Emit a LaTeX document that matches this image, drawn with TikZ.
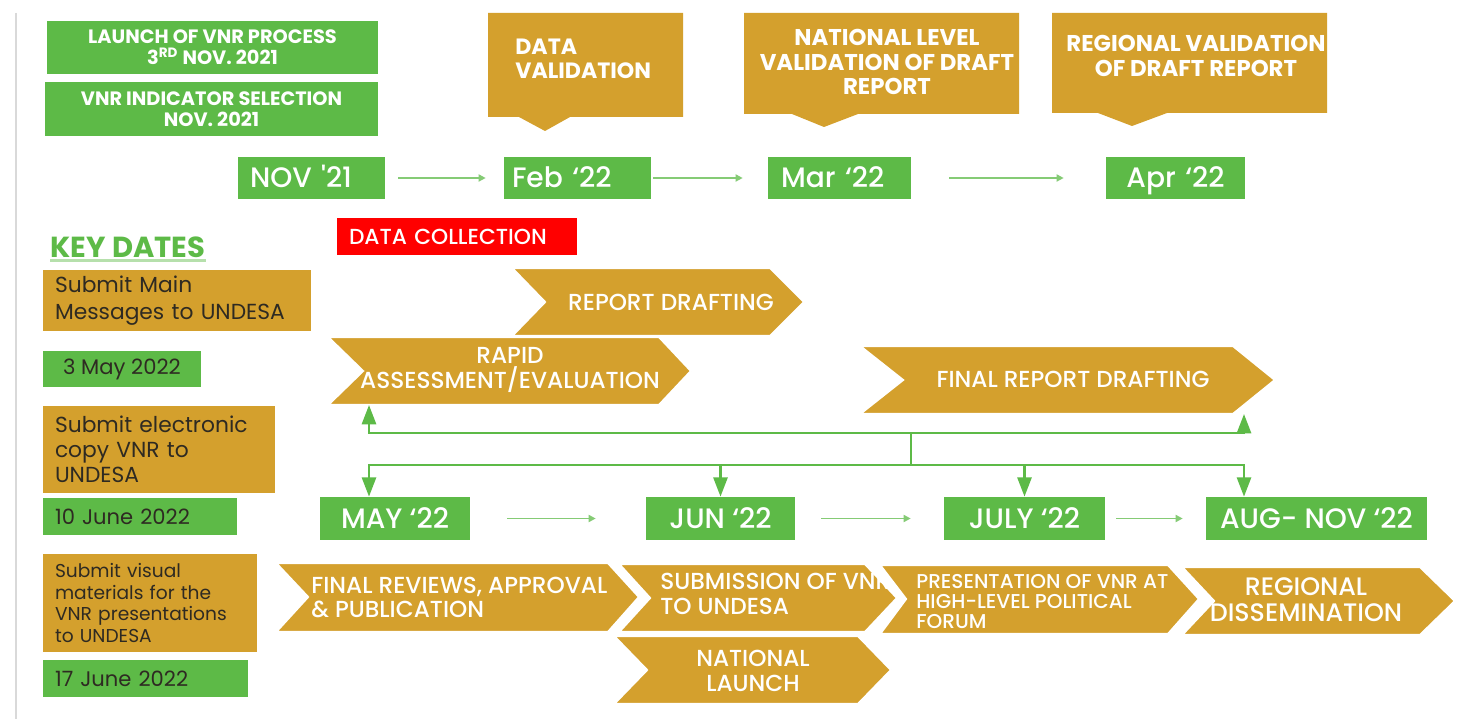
\documentclass[tikz,border=0pt]{standalone}
\usepackage{fontspec}
\setmainfont{Poppins}
\newfontfamily\medfont{Poppins Medium}
\usetikzlibrary{arrows.meta}
\definecolor{vnrgold}{HTML}{D4A02D}
\definecolor{vnrgreen}{HTML}{5DBA47}
\definecolor{vnrred}{HTML}{FF0000}
\definecolor{vnrink}{HTML}{2E2A22}
\begin{document}
\begin{tikzpicture}
	\begin{scope}[x={0.02cm},y={-0.02cm},
		greenhead/.style={fill=vnrgreen, text=white, inner sep=0pt, align=center, font=\bfseries\fontsize{11}{12}\selectfont},
		monthbox/.style={fill=vnrgreen, text=white, inner sep=0pt, text height=13pt, text depth=1.8pt, font=\medfont\fontsize{16}{18}\selectfont},
		callout/.style={fill=vnrgold},
		callouttext/.style={text=white, inner sep=0pt, font=\bfseries\fontsize{13}{14.2}\selectfont},
		chev/.style={fill=vnrgold, draw=white, line width=1.2pt},
		chevtext/.style={text=white, inner sep=0pt, font=\medfont\fontsize{13.2}{14.2}\selectfont},
		keybox/.style={fill=vnrgold, text=vnrink, inner xsep=0.24cm, inner ysep=0pt, align=left, font=\fontsize{12.4}{15}\selectfont},
		datebox/.style={fill=vnrgreen, text=vnrink, inner xsep=0.24cm, inner ysep=0pt, font=\fontsize{12}{15}\selectfont},
		monthlink/.style={draw=vnrgreen!75, line width=0.9pt, -{Triangle[length=4pt,width=4pt]}},
		bus/.style={draw=vnrgreen, line width=1.5pt},
		busarrow/.style={bus, -{Triangle[length=11pt,width=8pt]}}]

		\fill[white] (0,0) rectangle (1461,719); % page
		\useasboundingbox (0,0) rectangle (1461,719);
		\draw[gray!30, line width=1.2pt] (16,13)--(16,719); % left rule

		% launch boxes
		\node[greenhead, minimum width=6.62cm, minimum height=1.06cm] (launch) at (212.5,47.5) {LAUNCH OF VNR PROCESS\\3\textsuperscript{RD} NOV. 2021};
		\node[greenhead, minimum width=6.66cm, minimum height=1.08cm] (indic) at (211.5,109) {VNR INDICATOR SELECTION\\NOV. 2021};

		% callouts
		\fill[callout] (488,13)--(683,13)--(683,117)--(570,117)--(545,131)--(519,117)--(488,117)--cycle; % data validation
		\fill[callout] (744,13)--(1019,13)--(1019,114)--(858,114)--(824,127)--(792,114)--(744,114)--cycle; % national validation
		\fill[callout] (1052,13)--(1327,13)--(1327,113)--(1167,113)--(1132,126)--(1098,113)--(1052,113)--cycle; % regional validation
		\node[callouttext, align=left, anchor=west, font=\bfseries\fontsize{12.6}{14}\selectfont] (dvaltext) at (515,59) {DATA\\VALIDATION};
		\node[callouttext, align=center] (nvaltext) at (887,62) {NATIONAL LEVEL\\VALIDATION OF DRAFT\\REPORT};
		\node[callouttext, align=center] (rvaltext) at (1196,55.5) {REGIONAL VALIDATION\\OF DRAFT REPORT};

		% months, first row
		\node[monthbox, minimum height=0.84cm, text width=2.46cm, inner xsep=0.24cm, align=left] (nov) at (311.5,178) {NOV \textquotesingle 21};
		\node[monthbox, minimum height=0.84cm, text width=2.62cm, inner xsep=0.16cm, align=left] (feb) at (577.5,178) {Feb ‘22};
		\node[monthbox, minimum height=0.84cm, text width=2.34cm, inner xsep=0.26cm, align=left] (mar) at (839.5,178) {Mar ‘22};
		\node[monthbox, minimum height=0.84cm, text width=2.30cm, inner xsep=0.24cm, align=center] (apr) at (1175.5,178) {Apr ‘22};
		\draw[monthlink, shorten <=0.26cm, shorten >=0.36cm] (nov)--(feb);
		\draw[monthlink, shorten <=0.04cm, shorten >=0.50cm] (feb)--(mar);
		\draw[monthlink, shorten <=0.76cm, shorten >=0.84cm] (mar)--(apr);

		\node[fill=vnrred, text=white, inner xsep=0.24cm, inner ysep=0pt, minimum height=0.74cm, text width=4.32cm, align=left, font=\medfont\fontsize{12.4}{14}\selectfont] (collect) at (457,236.5) {DATA COLLECTION}; % red bar

		% key dates column
		\node[text=vnrgreen, inner sep=0pt, font=\bfseries\fontsize{16.5}{18}\selectfont] (keyd) at (128,247) {KEY DATES};
		\draw[vnrgreen!45, line width=1.3pt] ([yshift=-1.5pt]keyd.south west)--([yshift=-1.5pt]keyd.south east);
		\node[keybox, minimum height=1.22cm, text width=4.88cm] (mainmsg) at (177,300.5) {Submit Main\\Messages to UNDESA};
		\node[datebox, minimum width=3.16cm, minimum height=0.72cm] (may3) at (122,369) {3 May 2022};
		\node[keybox, minimum height=1.74cm, text width=4.16cm, font=\fontsize{12.4}{14.2}\selectfont] (ecopy) at (159,449.5) {Submit electronic\\copy VNR to\\UNDESA};
		\node[datebox, minimum height=0.74cm, text width=3.40cm, align=left] (jun10) at (140,516.5) {10 June 2022};
		\node[keybox, minimum height=1.96cm, text width=3.80cm, font=\fontsize{10.6}{12.5}\selectfont] (visual) at (150,603) {Submit visual\\materials for the\\VNR presentations\\to UNDESA};
		\node[datebox, minimum height=0.74cm, text width=3.62cm, align=left] (jun17) at (145.5,678.5) {17 June 2022};

		% drafting chevrons
		\draw[chev] (512,268)--(770,268)--(804,302)--(770,336)--(512,336)--(545,302)--cycle; % report drafting
		\draw[chev] (328,337)--(659,337)--(691,371)--(659,405)--(328,405)--(363,371)--cycle; % rapid assessment
		\draw[chev] (860,346)--(1233,346)--(1275,380)--(1233,414)--(860,414)--(903,380)--cycle; % final report drafting
		\node[chevtext] (rdraft) at (671,302) {REPORT DRAFTING};
		\node[chevtext, align=center] (rapid) at (510,369.5) {RAPID\\ASSESSMENT/EVALUATION};
		\node[chevtext] (frdraft) at (1073,379) {FINAL REPORT DRAFTING};

		% bus between drafting and months
		\coordinate (rapidb) at (369,405);
		\coordinate (frdb) at (1244,414);
		\coordinate (busU) at (911,433);
		\coordinate (busD) at (911,465);
		\draw[busarrow] (busU)-|(rapidb);
		\draw[busarrow] (busU)-|(frdb);
		\draw[bus] (busU)--(busD);

		% months, second row
		\node[monthbox, minimum height=0.86cm, minimum width=3cm] (may) at (395,518.5) {MAY ‘22};
		\node[monthbox, minimum height=0.86cm, minimum width=2.98cm] (jun) at (720.5,518.5) {JUN ‘22};
		\node[monthbox, minimum height=0.86cm, minimum width=3.22cm] (july) at (1024.5,518.5) {JULY ‘22};
		\node[monthbox, minimum height=0.86cm, minimum width=4.42cm] (aug) at (1316.5,518.5) {AUG- NOV ‘22};
		\draw[monthlink, shorten <=0.74cm, shorten >=1.0cm] (may)--(jun);
		\draw[monthlink, shorten <=0.52cm, shorten >=0.66cm] (jun)--(july);
		\draw[monthlink, shorten <=0.22cm, shorten >=0.46cm] (july)--(aug);

		\draw[busarrow] (busD)-|(may.north -| rapidb);
		\draw[busarrow] (busD)-|(jun.north);
		\draw[busarrow] (busD)-|(july.north);
		\draw[busarrow] (busD)-|(aug.north -| frdb);

		% release chevrons
		\draw[chev] (276,563)--(608,563)--(639,597)--(608,632)--(276,632)--(308,597)--cycle; % final reviews
		\node[chevtext, align=left, anchor=west] (frev) at (311,597.5) {FINAL REVIEWS, APPROVAL\\\& PUBLICATION};
		\draw[chev] (619,564)--(865,564)--(897,598)--(865,632)--(619,632)--(650,598)--cycle; % submission
		\node[chevtext, align=left, anchor=west] (subm) at (660,594) {SUBMISSION OF VNR\\TO UNDESA};
		\draw[chev] (614,636)--(858,636)--(891,670)--(858,704)--(614,704)--(647,670)--cycle; % national launch
		\node[chevtext, align=center] (natl) at (753,670.5) {NATIONAL\\LAUNCH};
		\draw[chev] (880,565)--(1168,565)--(1199,599)--(1168,634)--(880,634)--(906,599)--cycle; % presentation
		\node[chevtext, align=left, anchor=west, font=\medfont\fontsize{11.4}{11.6}\selectfont] (pres) at (916,601.5) {PRESENTATION OF VNR AT\\HIGH-LEVEL POLITICAL\\FORUM};
		\draw[chev] (1182,567)--(1420,567)--(1455,601)--(1420,635)--(1182,635)--(1214,601)--cycle; % regional dissemination
		\node[chevtext, align=center, font=\medfont\fontsize{14.4}{14.8}\selectfont] (regd) at (1306,600) {REGIONAL\\DISSEMINATION};
	\end{scope}
\end{tikzpicture}
\end{document}
